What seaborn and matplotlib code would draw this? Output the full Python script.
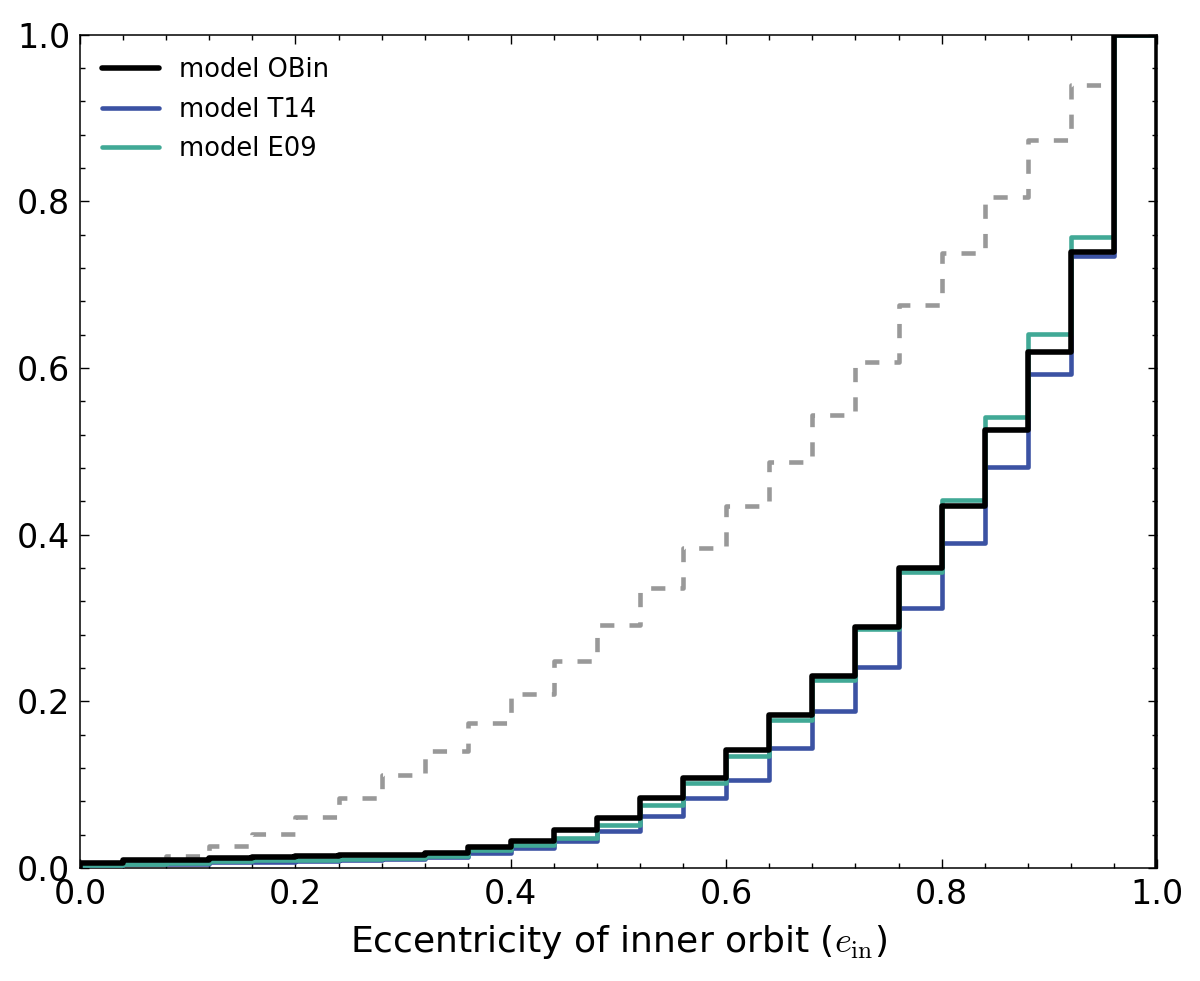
import numpy as np
import pandas as pd
import matplotlib
matplotlib.use("Agg")
import matplotlib.pyplot as plt
import seaborn as sns

# ---- data (cumulative fractions per bin, 25 bins over [0, 1]) ----
bin_edges = np.linspace(0.0, 1.0, 26)

obin = [0.0065, 0.009, 0.010, 0.0115, 0.013, 0.014, 0.015, 0.016, 0.0185,
        0.025, 0.032, 0.046, 0.060, 0.084, 0.108, 0.142, 0.183, 0.230,
        0.289, 0.360, 0.434, 0.525, 0.619, 0.739, 1.000]
t14 = [0.003, 0.0045, 0.005, 0.007, 0.0077, 0.0085, 0.009, 0.0104, 0.013,
       0.018, 0.0245, 0.032, 0.044, 0.062, 0.084, 0.106, 0.144, 0.188,
       0.241, 0.312, 0.390, 0.481, 0.593, 0.734, 1.000]
e09 = [0.004, 0.005, 0.006, 0.008, 0.009, 0.010, 0.011, 0.012, 0.014,
       0.021, 0.027, 0.036, 0.052, 0.076, 0.102, 0.134, 0.178, 0.226,
       0.287, 0.355, 0.441, 0.541, 0.641, 0.757, 1.000]
reference = [0.003, 0.006, 0.014, 0.026, 0.041, 0.061, 0.084, 0.112, 0.140,
             0.174, 0.209, 0.248, 0.291, 0.336, 0.384, 0.434, 0.487, 0.544,
             0.607, 0.675, 0.738, 0.805, 0.873, 0.940, 1.000]

labels = ["model OBin", "model T14", "model E09"]
x_ticks = [0.0, 0.2, 0.4, 0.6, 0.8, 1.0]
y_ticks = [0.0, 0.2, 0.4, 0.6, 0.8, 1.0]


def step_outline(edges, vals):
    """Closed step outline like a step histogram (drops to 0 at both ends)."""
    xs = np.repeat(edges, 2)
    ys = np.concatenate([[0.0], np.repeat(vals, 2), [0.0]])
    return pd.DataFrame({"x": xs, "y": ys})


sns.set_style("ticks")
plt.rcParams["font.family"] = ["DejaVu Sans"]
plt.rcParams["mathtext.fontset"] = "cm"
plt.rcParams["text.color"] = "black"
plt.rcParams["axes.labelcolor"] = "black"
plt.rcParams["xtick.color"] = "black"
plt.rcParams["ytick.color"] = "black"

fig = plt.figure(figsize=(12, 9.81), dpi=100)
ax = fig.add_axes([0.0667, 0.1152, 0.8975, 0.8496])

grey_df = step_outline(bin_edges, reference)
sns.lineplot(data=grey_df, x="x", y="y", sort=False, estimator=None,
             color="#999999", linewidth=3.3, ax=ax, zorder=2)
ax.lines[-1].set_dashes((3.1, 3.3))

series = [(t14, "#3B52A3", labels[1], 3.3, 3),
          (e09, "#41A996", labels[2], 3.3, 3.5),
          (obin, "#000000", labels[0], 4.0, 4)]
handles = {}
for vals, col, lab, lw, z in series:
    df = step_outline(bin_edges, vals)
    sns.lineplot(data=df, x="x", y="y", sort=False, estimator=None,
                 color=col, linewidth=lw, ax=ax, zorder=z)
    handles[lab] = ax.lines[-1]

ax.set_xlim(0, 1)
ax.set_ylim(0, 1)
ax.set_xticks(x_ticks)
ax.set_yticks(y_ticks)
ax.set_xticks(np.arange(0, 1.0001, 0.04), minor=True)
ax.set_yticks(np.arange(0, 1.0001, 0.04), minor=True)
ax.set_xticklabels([f"{t:.1f}" for t in x_ticks])
ax.set_yticklabels([f"{t:.1f}" for t in y_ticks])
ax.tick_params(which="both", direction="in", top=True, right=True,
               color="black", labelcolor="black", width=1.0)
ax.tick_params(which="major", length=6.5, labelsize=24, pad=7)
ax.tick_params(which="minor", length=3.4)
for s in ax.spines.values():
    s.set_linewidth(1.1)
    s.set_color("black")

ax.set_xlabel("Eccentricity of inner orbit ($e_{\\rm in}$)", fontsize=26,
              labelpad=9, color="black")
ax.set_ylabel("")

leg = ax.legend([handles[l] for l in labels], labels, loc="upper left",
                frameon=False, fontsize=18.5, handlelength=2.2,
                handletextpad=0.8, labelspacing=0.53, borderaxespad=0.47)
for t in leg.get_texts():
    t.set_color("black")

fig.savefig("out.png", dpi=100)
